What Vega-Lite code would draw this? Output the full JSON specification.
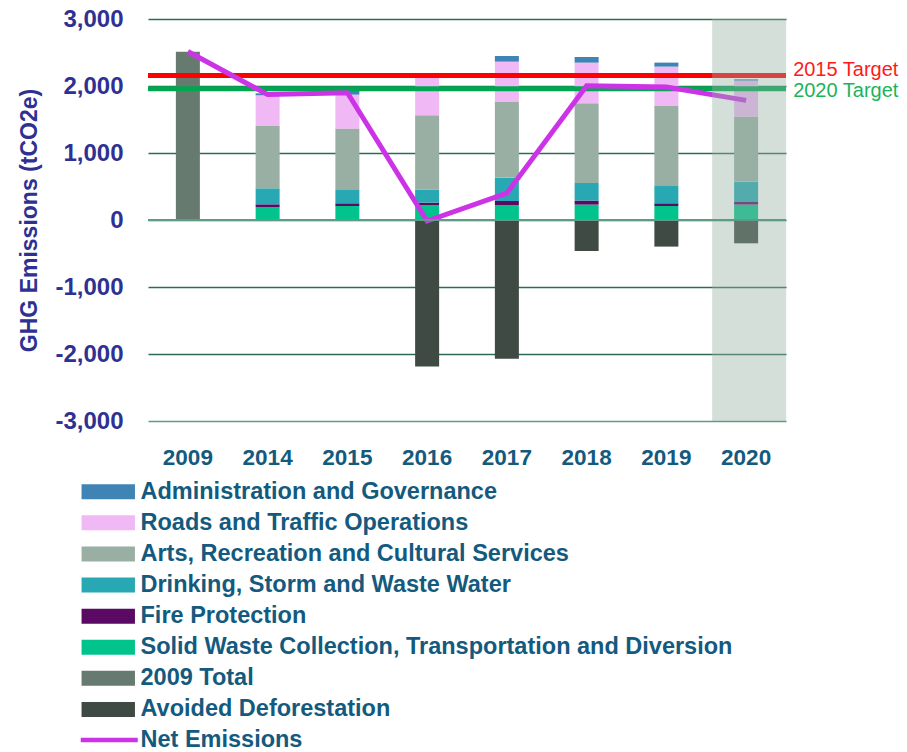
{
  "$schema": "https://vega.github.io/schema/vega-lite/v6.json",
  "width": 638,
  "height": 402,
  "autosize": {"type": "none"},
  "padding": {"left": 148, "top": 19, "right": 121, "bottom": 331},
  "background": "white",
  "config": {"view": {"stroke": null}, "font": "Liberation Sans"},
  "layer": [
    {
      "data": {"values": [
        {"year": "2009", "series": "2009 Total", "value": 2510, "stack": 7},
        {"year": "2014", "series": "Solid Waste Collection, Transportation and Diversion", "value": 194, "stack": 1},
        {"year": "2014", "series": "Fire Protection", "value": 40, "stack": 2},
        {"year": "2014", "series": "Drinking, Storm and Waste Water", "value": 239, "stack": 3},
        {"year": "2014", "series": "Arts, Recreation and Cultural Services", "value": 930, "stack": 4},
        {"year": "2014", "series": "Roads and Traffic Operations", "value": 458, "stack": 5},
        {"year": "2014", "series": "Administration and Governance", "value": 30, "stack": 6},
        {"year": "2015", "series": "Solid Waste Collection, Transportation and Diversion", "value": 209, "stack": 1},
        {"year": "2015", "series": "Fire Protection", "value": 40, "stack": 2},
        {"year": "2015", "series": "Drinking, Storm and Waste Water", "value": 199, "stack": 3},
        {"year": "2015", "series": "Arts, Recreation and Cultural Services", "value": 916, "stack": 4},
        {"year": "2015", "series": "Roads and Traffic Operations", "value": 507, "stack": 5},
        {"year": "2015", "series": "Administration and Governance", "value": 60, "stack": 6},
        {"year": "2016", "series": "Solid Waste Collection, Transportation and Diversion", "value": 224, "stack": 1},
        {"year": "2016", "series": "Fire Protection", "value": 35, "stack": 2},
        {"year": "2016", "series": "Drinking, Storm and Waste Water", "value": 194, "stack": 3},
        {"year": "2016", "series": "Arts, Recreation and Cultural Services", "value": 1109, "stack": 4},
        {"year": "2016", "series": "Roads and Traffic Operations", "value": 563, "stack": 5},
        {"year": "2016", "series": "Administration and Governance", "value": 25, "stack": 6},
        {"year": "2016", "series": "Avoided Deforestation", "value": -2185, "stack": 0},
        {"year": "2017", "series": "Solid Waste Collection, Transportation and Diversion", "value": 224, "stack": 1},
        {"year": "2017", "series": "Fire Protection", "value": 60, "stack": 2},
        {"year": "2017", "series": "Drinking, Storm and Waste Water", "value": 349, "stack": 3},
        {"year": "2017", "series": "Arts, Recreation and Cultural Services", "value": 1128, "stack": 4},
        {"year": "2017", "series": "Roads and Traffic Operations", "value": 603, "stack": 5},
        {"year": "2017", "series": "Administration and Governance", "value": 84, "stack": 6},
        {"year": "2017", "series": "Avoided Deforestation", "value": -2070, "stack": 0},
        {"year": "2018", "series": "Solid Waste Collection, Transportation and Diversion", "value": 230, "stack": 1},
        {"year": "2018", "series": "Fire Protection", "value": 60, "stack": 2},
        {"year": "2018", "series": "Drinking, Storm and Waste Water", "value": 262, "stack": 3},
        {"year": "2018", "series": "Arts, Recreation and Cultural Services", "value": 1190, "stack": 4},
        {"year": "2018", "series": "Roads and Traffic Operations", "value": 607, "stack": 5},
        {"year": "2018", "series": "Administration and Governance", "value": 84, "stack": 6},
        {"year": "2018", "series": "Avoided Deforestation", "value": -463, "stack": 0},
        {"year": "2019", "series": "Solid Waste Collection, Transportation and Diversion", "value": 209, "stack": 1},
        {"year": "2019", "series": "Fire Protection", "value": 40, "stack": 2},
        {"year": "2019", "series": "Drinking, Storm and Waste Water", "value": 269, "stack": 3},
        {"year": "2019", "series": "Arts, Recreation and Cultural Services", "value": 1184, "stack": 4},
        {"year": "2019", "series": "Roads and Traffic Operations", "value": 587, "stack": 5},
        {"year": "2019", "series": "Administration and Governance", "value": 60, "stack": 6},
        {"year": "2019", "series": "Avoided Deforestation", "value": -397, "stack": 0},
        {"year": "2020", "series": "Solid Waste Collection, Transportation and Diversion", "value": 230, "stack": 1},
        {"year": "2020", "series": "Fire Protection", "value": 39, "stack": 2},
        {"year": "2020", "series": "Drinking, Storm and Waste Water", "value": 304, "stack": 3},
        {"year": "2020", "series": "Arts, Recreation and Cultural Services", "value": 970, "stack": 4},
        {"year": "2020", "series": "Roads and Traffic Operations", "value": 537, "stack": 5},
        {"year": "2020", "series": "Administration and Governance", "value": 20, "stack": 6},
        {"year": "2020", "series": "Avoided Deforestation", "value": -348, "stack": 0}
      ]},
      "mark": {"type": "bar", "width": 24},
      "encoding": {
        "x": {
          "field": "year", "type": "nominal",
          "scale": {"domain": ["2009", "2014", "2015", "2016", "2017", "2018", "2019", "2020"], "paddingInner": 0, "paddingOuter": 0},
          "axis": {
            "title": null, "labelAngle": 0,
            "labelFont": "Liberation Sans",
            "labelFontWeight": "bold", "labelFontSize": 22.5, "labelColor": "#135a7e",
            "labelPadding": 25, "ticks": false, "domain": false, "grid": false
          }
        },
        "y": {
          "field": "value", "type": "quantitative", "stack": "zero",
          "scale": {"domain": [-3000, 3000], "nice": false, "zero": false},
          "axis": {
            "values": [-3000, -2000, -1000, 0, 1000, 2000, 3000],
            "labelExpr": "datum.value < 0 ? '-' + format(-datum.value, ',') : format(datum.value, ',')",
            "title": "GHG Emissions (tCO2e)",
            "titleFont": "Liberation Sans", "titleFontSize": 23, "titleFontWeight": "bold",
            "titleColor": "#2e3192", "titlePadding": 13,
            "labelFont": "Liberation Sans", "labelFontSize": 24, "labelFontWeight": "bold",
            "labelColor": "#2e3192", "labelPadding": 25,
            "ticks": false, "domain": false, "grid": true,
            "gridColor": {"condition": {"test": "datum.value === -3000", "value": "#5f9b86"}, "value": "#2d6b57"},
            "gridWidth": 1.5
          }
        },
        "color": {
          "field": "series", "type": "nominal",
          "scale": {
            "domain": ["Administration and Governance", "Roads and Traffic Operations", "Arts, Recreation and Cultural Services", "Drinking, Storm and Waste Water", "Fire Protection", "Solid Waste Collection, Transportation and Diversion", "2009 Total", "Avoided Deforestation"],
            "range": ["#3f84b4", "#f0b8f5", "#9aafa3", "#27a8b3", "#5a0a62", "#00c48b", "#677a6f", "#3e4a43"]
          },
          "legend": {
            "orient": "none", "legendX": -51.5, "legendY": 461, "title": null,
            "direction": "vertical", "padding": 0,
            "symbolType": "M-3.56,-1L3.56,-1L3.56,1L-3.56,1Z", "symbolSize": 225,
            "symbolStrokeWidth": 0, "symbolOpacity": 1,
            "labelFont": "Liberation Sans", "labelFontWeight": "bold", "labelFontSize": 23.5,
            "labelColor": "#135a7e", "labelOffset": 20.5, "rowPadding": 6.1, "labelLimit": 800
          }
        },
        "order": {"field": "stack", "type": "quantitative"}
      }
    },
    {
      "data": {"values": [{"target": "2015 Target", "value": 2155}]},
      "mark": {"type": "rule", "color": "#ff0000", "strokeWidth": 5},
      "encoding": {"y": {"field": "value", "type": "quantitative"}}
    },
    {
      "data": {"values": [{"target": "2020 Target", "value": 1960}]},
      "mark": {"type": "rule", "color": "#00a650", "strokeWidth": 5},
      "encoding": {"y": {"field": "value", "type": "quantitative"}}
    },
    {
      "data": {"values": [
        {"year": "2009", "series": "Net Emissions", "value": 2515},
        {"year": "2014", "series": "Net Emissions", "value": 1872},
        {"year": "2015", "series": "Net Emissions", "value": 1900},
        {"year": "2016", "series": "Net Emissions", "value": -15},
        {"year": "2017", "series": "Net Emissions", "value": 400},
        {"year": "2018", "series": "Net Emissions", "value": 2005},
        {"year": "2019", "series": "Net Emissions", "value": 1985},
        {"year": "2020", "series": "Net Emissions", "value": 1785}
      ]},
      "mark": {"type": "line", "strokeWidth": 5},
      "encoding": {
        "x": {"field": "year", "type": "nominal"},
        "y": {"field": "value", "type": "quantitative"},
        "stroke": {
          "field": "series", "type": "nominal",
          "scale": {"domain": ["Net Emissions"], "range": ["#cc33e6"]},
          "legend": {
            "orient": "none", "legendX": -50.5, "legendY": 709.25, "title": null, "padding": 0,
            "symbolType": "M-3.8,0L3.8,0", "symbolSize": 225, "symbolStrokeWidth": 4.5,
            "symbolFillColor": "transparent",
            "labelFont": "Liberation Sans", "labelFontWeight": "bold", "labelFontSize": 23.5,
            "labelColor": "#135a7e", "labelOffset": 19.5, "labelLimit": 800
          }
        }
      }
    },
    {
      "data": {"values": [{"label": "2020 shading"}]},
      "mark": {"type": "bar", "width": 74, "xOffset": 3, "color": "#96afa2", "opacity": 0.4},
      "encoding": {
        "x": {"datum": "2020"},
        "y": {"datum": 3000},
        "y2": {"datum": -3000}
      }
    },
    {
      "data": {"values": [{"value": 0}]},
      "mark": {"type": "rule", "color": "#5f9b86", "strokeWidth": 2},
      "encoding": {"y": {"field": "value", "type": "quantitative"}}
    },
    {
      "data": {"values": [{"target": "2015 Target", "value": 2155}]},
      "mark": {"type": "text", "align": "left", "baseline": "alphabetic", "dx": 47, "dy": 0, "font": "Liberation Sans", "fontSize": 20, "color": "#ff1a1a"},
      "encoding": {
        "x": {"datum": "2020"},
        "y": {"field": "value", "type": "quantitative"},
        "text": {"field": "target"}
      }
    },
    {
      "data": {"values": [{"target": "2020 Target", "value": 1960}]},
      "mark": {"type": "text", "align": "left", "baseline": "alphabetic", "dx": 47, "dy": 8, "font": "Liberation Sans", "fontSize": 20, "color": "#1db35a"},
      "encoding": {
        "x": {"datum": "2020"},
        "y": {"field": "value", "type": "quantitative"},
        "text": {"field": "target"}
      }
    }
  ]
}
